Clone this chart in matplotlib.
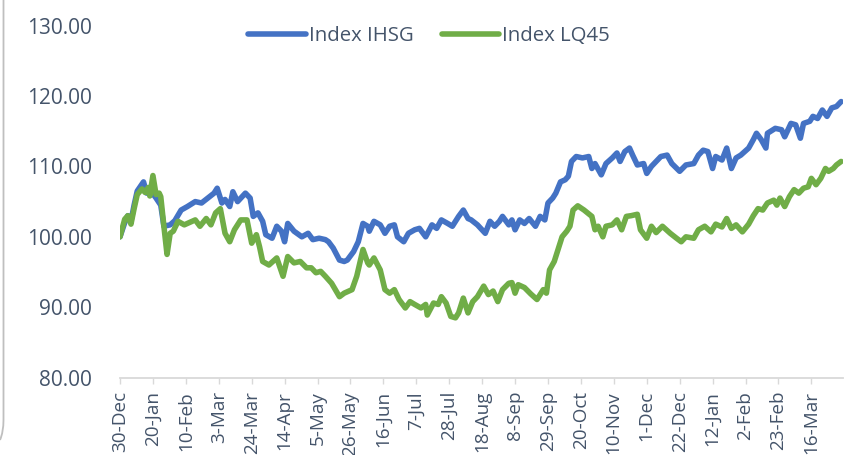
import matplotlib
matplotlib.use("Agg")
import matplotlib.pyplot as plt
import numpy as np
import pandas as pd
from matplotlib.path import Path
from matplotlib.patches import PathPatch

# ---------------- data ----------------
start_date = "2020-12-30"

# days since start_date, IHSG index (rebased to 100)
ihsg_days = [0, 3, 5, 7, 9, 11, 15, 17, 20, 23, 26, 28, 32, 35, 39, 43, 48, 52, 56, 60,
             62, 65, 67, 70, 72, 75, 80, 83, 85, 88, 91, 93, 97, 100, 103, 105, 107, 111, 116, 120,
             123, 127, 131, 133, 136, 140, 143, 145, 149, 152, 155, 158, 159, 162, 166, 169, 172, 175, 177, 181,
             184, 188, 191, 195, 199, 202, 205, 209, 212, 216, 219, 222, 224, 228, 233, 236, 239, 242, 244, 248,
             250, 252, 255, 258, 261, 265, 268, 271, 273, 276, 278, 281, 284, 286, 288, 291, 295, 299, 301, 303,
             307, 310, 314, 317, 319, 322, 325, 327, 330, 334, 336, 339, 342, 345, 349, 352, 357, 361, 366, 369,
             372, 375, 378, 380, 384, 387, 390, 393, 396, 401, 404, 406, 409, 412, 413, 418, 422, 424, 428, 431,
             434, 436, 440, 442, 445, 448, 451, 454, 457, 460]
ihsg_vals = [100.0, 102.0, 103.0, 102.2, 104.5, 106.5, 107.8, 106.2, 106.4, 105.5, 104.5, 101.5, 101.7, 102.3, 103.8, 104.3, 105.0, 104.8, 105.5, 106.2,
             106.9, 104.8, 105.3, 104.3, 106.4, 105.0, 106.2, 105.5, 102.9, 103.4, 102.2, 100.3, 99.8, 101.5, 100.8, 99.3, 101.9, 100.8, 100.0, 100.5,
             99.6, 99.8, 99.6, 99.3, 98.4, 96.7, 96.5, 96.7, 97.9, 99.3, 101.9, 101.5, 100.8, 102.2, 101.7, 100.5, 101.5, 101.7, 100.0, 99.3,
             100.5, 101.0, 101.2, 100.0, 101.7, 101.2, 102.4, 101.9, 101.5, 102.9, 103.8, 102.6, 102.4, 101.7, 100.5, 102.2, 101.5, 102.2, 102.9, 101.7,
             102.4, 101.0, 102.4, 101.9, 102.6, 101.5, 102.9, 102.4, 104.8, 105.5, 106.2, 107.8, 108.1, 108.6, 110.7, 111.4, 111.2, 111.4, 109.7, 110.4,
             108.8, 110.4, 111.2, 111.9, 110.7, 112.1, 112.6, 111.6, 110.2, 110.4, 109.0, 110.0, 110.7, 111.4, 111.6, 110.4, 109.3, 110.2, 110.4, 111.6,
             112.3, 112.1, 109.7, 111.4, 110.9, 112.6, 109.7, 111.2, 111.6, 112.6, 113.8, 114.7, 113.8, 112.6, 114.7, 115.4, 115.2, 114.2, 116.1, 115.9,
             114.0, 116.1, 116.4, 117.1, 116.8, 118.0, 117.1, 118.3, 118.5, 119.2]

# days since start_date, LQ45 index (rebased to 100)
lq45_days = [0, 3, 5, 7, 9, 11, 14, 16, 18, 19, 21, 23, 25, 26, 28, 30, 32, 34, 37, 41,
             44, 48, 51, 55, 58, 61, 64, 67, 70, 73, 77, 81, 84, 87, 89, 91, 95, 100, 104, 107,
             111, 115, 119, 122, 125, 128, 131, 135, 140, 143, 148, 151, 155, 158, 159, 162, 166, 169, 172, 175,
             178, 182, 185, 188, 192, 195, 196, 200, 203, 205, 208, 211, 214, 216, 219, 222, 225, 228, 232, 235,
             238, 241, 244, 248, 250, 252, 254, 258, 262, 266, 270, 272, 274, 277, 279, 282, 285, 287, 289, 292,
             296, 301, 303, 305, 308, 310, 314, 317, 320, 323, 326, 330, 332, 336, 339, 342, 346, 351, 355, 358,
             361, 366, 369, 373, 377, 380, 384, 387, 390, 393, 397, 401, 404, 407, 410, 413, 417, 419, 421, 424,
             427, 430, 433, 436, 439, 441, 444, 447, 450, 452, 455, 457, 460]
lq45_vals = [100.0, 102.5, 103.0, 101.8, 104.0, 106.0, 106.8, 106.3, 107.0, 105.8, 108.7, 106.0, 106.2, 105.7, 101.5, 97.5, 100.5, 100.8, 102.2, 101.7,
             102.0, 102.4, 101.5, 102.6, 101.7, 103.4, 104.0, 100.5, 99.3, 101.0, 102.4, 102.4, 99.1, 100.3, 98.6, 96.5, 96.0, 97.0, 94.4, 97.2,
             96.3, 96.5, 95.6, 95.6, 94.9, 95.1, 94.4, 93.4, 91.5, 92.0, 92.5, 94.4, 98.2, 96.3, 96.0, 97.0, 95.3, 92.5, 92.0, 92.5,
             91.1, 89.9, 90.8, 90.4, 89.9, 90.4, 88.9, 90.6, 90.4, 91.5, 90.6, 88.7, 88.5, 89.2, 91.3, 89.2, 90.8, 91.5, 93.0, 91.8,
             92.3, 90.8, 92.5, 93.4, 93.5, 92.0, 93.2, 92.8, 91.9, 91.1, 92.5, 92.0, 95.3, 96.5, 97.9, 100.0, 100.8, 101.5, 103.8, 104.4,
             103.8, 102.9, 101.0, 101.5, 100.0, 101.5, 101.7, 102.4, 101.0, 102.9, 103.0, 103.2, 101.0, 99.8, 101.5, 100.6, 101.5, 100.5, 99.8, 99.3,
             100.0, 99.8, 101.0, 101.5, 100.7, 101.8, 101.4, 102.6, 101.2, 101.7, 100.7, 101.8, 103.0, 104.0, 103.8, 104.8, 105.2, 104.5, 105.5, 104.3,
             105.7, 106.7, 106.2, 106.9, 107.1, 108.3, 107.4, 108.3, 109.7, 109.3, 109.7, 110.2, 110.7]

series_names = ["Index IHSG", "Index LQ45"]
tick_labels = ["30-Dec", "20-Jan", "10-Feb", "3-Mar", "24-Mar", "14-Apr", "5-May", "26-May",
               "16-Jun", "7-Jul", "28-Jul", "18-Aug", "8-Sep", "29-Sep", "20-Oct", "10-Nov",
               "1-Dec", "22-Dec", "12-Jan", "2-Feb", "23-Feb", "16-Mar"]
y_ticks = [80, 90, 100, 110, 120, 130]

# ---------------- style ----------------
BLUE = "#4472C4"
GREEN = "#70AD47"
TXT = "#44546A"
AXC = "#D9D9D9"
plt.rcParams["font.family"] = ["Open Sans", "DejaVu Sans"]

t0 = pd.Timestamp(start_date)
ihsg_dates = t0 + pd.to_timedelta(ihsg_days, unit="D")
lq45_dates = t0 + pd.to_timedelta(lq45_days, unit="D")
tick_dates = pd.date_range(t0, periods=len(tick_labels), freq="21D")

fig = plt.figure(figsize=(8.6, 4.55), dpi=100)
ax = fig.add_axes([120 / 860, 1 - 377.7 / 455, (842.7 - 120) / 860, (377.7 - 25.5) / 455])

lw = 4.0
l1, = ax.plot(ihsg_dates, ihsg_vals, color=BLUE, lw=lw, solid_capstyle="round",
              solid_joinstyle="round", label=series_names[0], zorder=3)
l2, = ax.plot(lq45_dates, lq45_vals, color=GREEN, lw=lw, solid_capstyle="round",
              solid_joinstyle="round", label=series_names[1], zorder=4)

ax.set_ylim(80, 130)
ax.set_yticks(y_ticks)
ax.set_yticklabels([f"{v:.2f}" for v in y_ticks])
ax.set_xlim(t0, t0 + pd.Timedelta(days=461))
ax.set_xticks(tick_dates)
ax.set_xticklabels(tick_labels, rotation=90)

for s in ["top", "right", "left"]:
    ax.spines[s].set_visible(False)
ax.spines["bottom"].set_color(AXC)
ax.spines["bottom"].set_linewidth(1.3)
ax.tick_params(axis="y", length=0, pad=20, labelsize=15, labelcolor=TXT)
ax.tick_params(axis="x", length=4.5, width=1.0, color=AXC, pad=5, labelsize=13.6, labelcolor=TXT)
ax.grid(False)

leg = fig.legend(handles=[l1, l2], loc="center", bbox_to_anchor=(0.499, 0.921), ncol=2,
                 frameon=False, fontsize=14.7, handlelength=2.8, handletextpad=0.15,
                 columnspacing=1.4, labelcolor=TXT)
for h in leg.get_lines():
    h.set_linewidth(lw)
    h.set_solid_capstyle("round")

# partial chart-area border at the left edge (rounded corner)
W, H = 860, 455
verts = [(3.5 / W, 1.0), (3.5 / W, 1 - 420 / H), (3.5 / W, 1 - 432 / H), (0.0, 1 - 440 / H)]
codes = [Path.MOVETO, Path.LINETO, Path.CURVE3, Path.CURVE3]
fig.patches.append(PathPatch(Path(verts, codes), transform=fig.transFigure,
                             fill=False, edgecolor="#BFBFBF", lw=1.3))

fig.savefig("out.png", dpi=100)
